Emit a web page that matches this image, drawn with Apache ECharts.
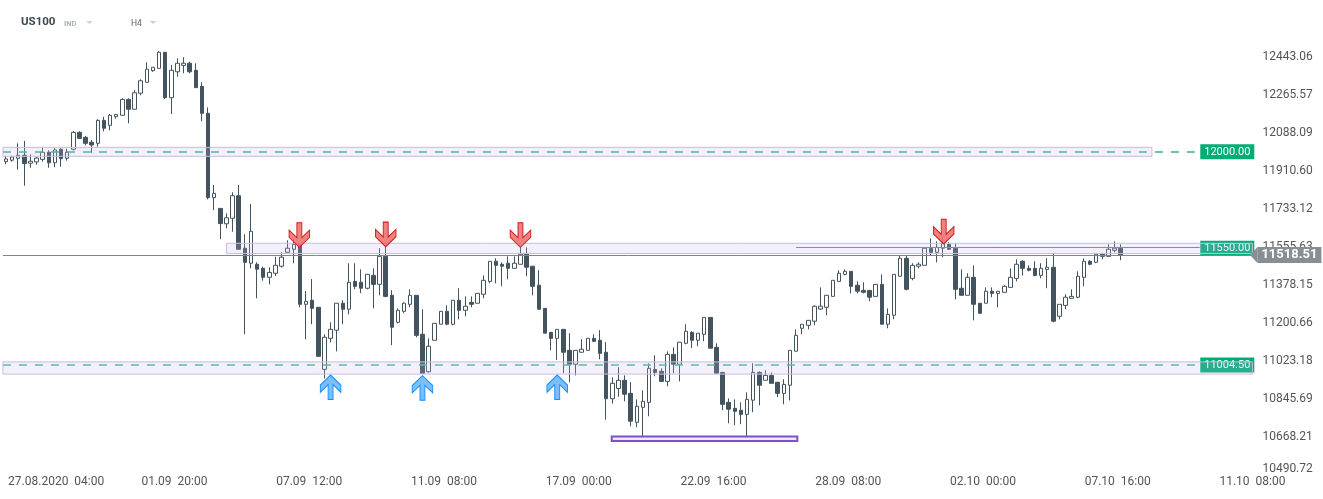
<!DOCTYPE html>
<html><head><meta charset="utf-8">
<script src="https://cdn.jsdelivr.net/npm/echarts@6/dist/echarts.min.js"></script>
<style>html,body{margin:0;padding:0;background:#fff}#c{width:1323px;height:499px}</style>
</head><body><div id="c"></div>
<script>
// ---- OHLC data (H4 bars, US100) ----
const opens = [11954,11961,11970,11984,11947,11953,11965,11998,11949,12012,11970,12012,12091,12068,12045,12040,12147,12124,12164,12171,
12245,12199,12274,12325,12379,12390,12465,12253,12374,12404,12414,12381,12306,12180,11786,11736,11664,11690,11795,11550,
11480,11475,11456,11414,11433,11466,11531,11545,11568,11288,11307,11274,10984,11129,11167,11293,11265,11395,11391,11363,
11423,11381,11512,11330,11204,11255,11288,11330,11148,10973,11120,11195,11255,11195,11307,11260,11297,11293,11335,11395,
11489,11475,11480,11456,11475,11522,11466,11377,11269,11157,11129,11171,11073,11008,11064,11073,11129,11120,11064,10847,
10895,10933,10872,10737,10807,10830,10984,10975,10928,11054,11008,11106,11157,11120,11148,11227,11087,10970,10830,10802,
10793,10774,10840,10970,10933,10956,10924,10872,10910,11069,11176,11190,11209,11266,11274,11325,11395,11428,11442,11377,
11353,11353,11325,11381,11195,11237,11419,11503,11409,11466,11470,11550,11531,11550,11568,11550,11363,11330,11414,11293,
11293,11349,11339,11344,11367,11409,11489,11456,11456,11423,11451,11461,11232,11283,11316,11321,11414,11489,11484,11522,
11512,11540,11550];
const highs = [11981,11982,12040,12051,11988,11977,12018,12007,12017,12017,12015,12097,12096,12074,12055,12153,12164,12177,12177,12250,
12250,12289,12339,12418,12395,12471,12465,12406,12437,12442,12421,12414,12325,12208,11845,11736,11713,11811,11845,11615,
11756,11484,11464,11461,11510,11531,11587,11596,11573,11350,11406,11274,11148,11204,11293,11307,11480,11480,11451,11428,
11456,11550,11559,11354,11269,11297,11358,11330,11265,11129,11199,11255,11283,11307,11363,11325,11325,11339,11423,11489,
11503,11484,11512,11512,11554,11554,11466,11447,11269,11157,11171,11171,11153,11073,11125,11129,11148,11167,11111,10947,
10994,10956,10924,10844,10886,11012,11050,10989,11068,11087,11111,11195,11162,11153,11227,11227,11106,10970,10849,10844,
10830,10877,11012,10975,10980,10970,10924,10938,11073,11171,11195,11213,11283,11367,11330,11400,11447,11451,11442,11395,
11391,11353,11381,11428,11269,11428,11517,11517,11480,11484,11554,11596,11582,11601,11578,11573,11451,11433,11470,11293,
11367,11367,11349,11377,11456,11498,11494,11470,11489,11480,11503,11522,11288,11335,11358,11442,11503,11494,11522,11526,
11568,11582,11568];
const lows = [11942,11954,11917,11842,11926,11940,11954,11926,11928,11931,11959,12007,12060,12030,11996,12024,12096,12101,12155,12167,
12133,12199,12264,12325,12374,12390,12247,12177,12351,12367,12367,12300,12143,11778,11728,11592,11643,11627,11545,11148,
11456,11316,11398,11381,11420,11459,11531,11480,11274,11125,11195,11045,10942,11110,11068,11195,11241,11358,11340,11358,
11269,11330,11321,11097,11199,11246,11274,11134,10966,10969,11120,11195,11190,11190,11218,11232,11274,11293,11316,11386,
11386,11372,11405,11456,11475,11419,11330,11265,11153,11073,11028,10966,10924,10956,11064,11073,11115,11031,10749,10824,
10856,10835,10718,10714,10667,10765,10952,10928,10905,10966,10928,11101,11083,11092,11115,11083,10966,10793,10732,10723,
10728,10667,10784,10816,10933,10919,10854,10821,10839,11069,11148,11171,11190,11261,11237,11325,11395,11423,11339,11339,
11339,11302,11325,11195,11176,11218,11419,11353,11400,11456,11470,11517,11484,11508,11545,11311,11330,11330,11213,11246,
11293,11321,11274,11344,11367,11395,11423,11442,11419,11409,11363,11204,11218,11265,11316,11316,11372,11470,11480,11498,
11512,11531,11494];
const closes = [11967,11976,11984,11945,11956,11971,11998,11949,12009,11968,11998,12091,12063,12040,12032,12147,12110,12171,12174,12245,
12199,12276,12332,12386,12395,12465,12253,12381,12414,12414,12374,12300,12180,11786,11806,11665,11692,11795,11545,11484,
11629,11452,11414,11437,11470,11508,11550,11568,11288,11302,11269,11045,11134,11171,11293,11265,11391,11372,11363,11428,
11381,11512,11325,11181,11260,11293,11330,11143,10966,11092,11199,11255,11195,11307,11260,11279,11288,11339,11400,11489,
11470,11466,11456,11480,11522,11461,11372,11265,11153,11129,11171,11064,11008,11073,11078,11129,11115,11059,10847,10919,
10933,10868,10742,10812,10835,10989,10970,10928,11054,11008,11111,11162,11120,11153,11227,11083,10966,10821,10798,10788,
10774,10844,10970,10910,10956,10919,10872,10914,11073,11143,11195,11213,11279,11279,11330,11400,11433,11442,11372,11349,
11344,11321,11381,11195,11241,11428,11503,11358,11470,11475,11550,11531,11554,11573,11545,11358,11330,11414,11288,11246,
11349,11339,11349,11372,11414,11475,11456,11447,11423,11456,11461,11209,11288,11321,11325,11419,11489,11475,11522,11512,
11545,11550,11518.51];

// ---- axes ----
const totalSlots = 204;            // bar slots on the time axis (incl. empty future space)
const xTickPos = [5.5, 27.5, 49.5, 71.5, 93.5, 115.5, 137.5, 159.5, 181.5, 203.5];
const xTickLabels = ['27.08.2020  04:00','01.09  20:00','07.09  12:00','11.09  08:00','17.09  00:00',
                     '22.09  16:00','28.09  08:00','02.10  00:00','07.10  16:00','11.10  08:00'];
const yTicks = [12443.06,12265.57,12088.09,11910.60,11733.12,11555.63,11378.15,11200.66,11023.18,10845.69,10668.21,10490.72];
const yMin = 10490.72, yMax = 12620.55;

// ---- levels / annotations ----
const lastPrice = 11518.51;
const levelValues = [12000.00, 11550.00, 11004.50];
const levelLabels = ['12000.00', '11550.00', '11004.50'];
const zoneTop = [11979, 12021];
const zoneMid = [11525, 11573];
const zoneLow = [10962, 11019];
const bottomBox = [10650, 10671];
const bottomBoxIdx = [98.9, 129.2];
const resistanceLine = 11553;
const downArrowIdx = [47.9, 62.0, 84.0, 153.1];
const downArrowPrice = [11554, 11557, 11554, 11570];
const upArrowIdx = [53.0, 68.0, 90.0];
const upArrowPrice = [10958, 10955, 10958];

const cats = Array.from({length: totalSlots}, (_, i) => String(i));
const candleData = opens.map((o, i) => [o, closes[i], lows[i], highs[i]]);

const dark = '#44545e';
const zoneStyle = {color: 'rgba(195,180,230,0.2)', borderColor: '#c8bce4', borderWidth: 1};
const downPath = 'path://M7.6 0L12.4 0L12.4 14.9L20 7.3L20 14.6L10 24.6L0 14.6L0 7.3L7.6 14.9Z';
const upPath = 'path://M7.6 24.6L12.4 24.6L12.4 9.7L20 17.3L20 10L10 0L0 10L0 17.3L7.6 9.7Z';

const chart = echarts.init(document.getElementById('c'));
chart.setOption({
  animation: false,
  backgroundColor: '#ffffff',
  textStyle: {fontFamily: 'Roboto'},
  grid: {left: 2.9, right: 70.6, top: 19, bottom: 24},
  graphic: [
    {type: 'text', left: 21, top: 16, style: {text: 'US100', fontSize: 11.5, fontWeight: 'bold', fill: '#3b4852', fontFamily: 'Roboto'}},
    {type: 'text', left: 64, top: 20, style: {text: 'IND', fontSize: 7.5, fontWeight: 'bold', fill: '#a9b1b7', fontFamily: 'Roboto'}},
    {type: 'polygon', shape: {points: [[86, 21], [93, 21], [89.5, 24]]}, style: {fill: '#cdd2d6'}},
    {type: 'text', left: 131, top: 19, style: {text: 'H4', fontSize: 8.5, fill: '#5d676e', fontFamily: 'Roboto'}},
    {type: 'polygon', shape: {points: [[149.5, 21], [156.5, 21], [153, 24]]}, style: {fill: '#cdd2d6'}}
  ],
  xAxis: [
    {type: 'category', data: cats, boundaryGap: true, position: 'bottom',
     axisLine: {show: false}, axisTick: {show: false}, axisLabel: {show: false}, splitLine: {show: false}},
    {type: 'value', min: -0.5, max: totalSlots - 0.5, position: 'bottom',
     axisLine: {show: false}, axisTick: {show: false}, splitLine: {show: false},
     axisLabel: {
       customValues: xTickPos, margin: 1, color: '#555', fontSize: 12, fontFamily: 'Roboto',
       formatter: function (v) {
         const i = xTickPos.findIndex(p => Math.abs(p - v) < 0.01);
         if (i < 0) return '';
         return i === 0 ? '{a|' + xTickLabels[i] + '}' : xTickLabels[i];
       },
       rich: {a: {padding: [0, 0, 0, 33], color: '#555', fontSize: 12, fontFamily: 'Roboto'}}
     }}
  ],
  yAxis: {
    type: 'value', position: 'right', min: yMin, max: yMax,
    axisLine: {show: false}, axisTick: {show: false}, splitLine: {show: false},
    axisLabel: {
      customValues: yTicks, margin: 10, color: '#555', fontSize: 12, fontFamily: 'Roboto',
      formatter: function (v) {
        const s = v.toFixed(2);
        return Math.abs(v - yTicks[yTicks.length - 1]) < 0.01 ? '{b|' + s + '}' : s;
      },
      rich: {b: {padding: [0, 0, 12, 0], color: '#555', fontSize: 12, fontFamily: 'Roboto'}}
    }
  },
  series: [
    {
      type: 'candlestick', xAxisIndex: 0, yAxisIndex: 0, data: candleData, barWidth: 4, z: 2,
      itemStyle: {color: '#ffffff', color0: dark, borderColor: dark, borderColor0: dark, borderWidth: 1}
    },
    { // level label boxes (under the zone overlay)
      type: 'line', xAxisIndex: 1, yAxisIndex: 0, data: [], z: 3, clip: false, silent: true,
      markPoint: {
        z: 2, silent: true, symbol: 'rect', symbolSize: [54, 15],
        label: {show: true, position: 'inside', color: '#fff', fontSize: 11, fontFamily: 'Roboto', formatter: '{b}'},
        data: levelValues.map((v, i) => ({name: levelLabels[i], coord: [199.4, v],
          itemStyle: {color: '#00ad74'}}))
      },
      markLine: {
        z: 2.5, silent: true, symbol: ['none', 'none'], label: {show: false},
        data: [
          [{coord: [-0.5, levelValues[0]], lineStyle: {color: '#2fb98a', width: 1.5, type: [8, 8]}}, {coord: [194.1, levelValues[0]]}],
          [{coord: [-0.5, levelValues[2]], lineStyle: {color: '#3fbf95', width: 1.5, type: [8, 8]}}, {coord: [194.9, levelValues[2]]}]
        ]
      }
    },
    { // translucent zones drawn over candles
      type: 'line', xAxisIndex: 1, yAxisIndex: 0, data: [], z: 4, clip: false, silent: true,
      markArea: {
        z: 3, silent: true,
        data: [
          [{coord: [-0.5, zoneTop[0]], itemStyle: zoneStyle}, {coord: [187.1, zoneTop[1]]}],
          [{coord: [36.0, zoneMid[0]], itemStyle: zoneStyle}, {coord: [totalSlots - 0.5, zoneMid[1]]}],
          [{coord: [-0.5, zoneLow[0]], itemStyle: zoneStyle}, {coord: [totalSlots - 0.5, zoneLow[1]]}],
          [{coord: [bottomBoxIdx[0], bottomBox[0]], itemStyle: {color: 'rgba(205,190,240,0.35)', borderColor: '#7b52c8', borderWidth: 2}},
           {coord: [bottomBoxIdx[1], bottomBox[1]]}]
        ]
      }
    },
    { // arrows, resistance line, last price
      type: 'line', xAxisIndex: 1, yAxisIndex: 0, data: [], z: 5, clip: false, silent: true,
      markLine: {
        z: 5, silent: true, symbol: ['none', 'none'],
        data: [
          [{coord: [129.0, resistanceLine], lineStyle: {color: '#35b98f', width: 1, type: 'solid'}, label: {show: false}},
           {coord: [194.9, resistanceLine]}],
          {yAxis: lastPrice, lineStyle: {color: '#7d868c', width: 1, type: 'solid'},
           label: {show: true, position: 'end', distance: 5, formatter: lastPrice.toFixed(2),
                   backgroundColor: '#878f94', color: '#fff', fontWeight: 'bold', fontSize: 13,
                   fontFamily: 'Roboto', padding: [2, 4, 1, 4]}}
        ]
      },
      markPoint: {
        z: 6, silent: true,
        data: [
          ...downArrowIdx.map((x, i) => ({coord: [x, downArrowPrice[i]], symbol: downPath, symbolSize: [20.5, 24.6],
            symbolOffset: [0, '-50%'], label: {show: false},
            itemStyle: {color: 'rgba(238,112,112,0.88)', borderColor: '#d11a1a', borderWidth: 1}})),
          ...upArrowIdx.map((x, i) => ({coord: [x, upArrowPrice[i]], symbol: upPath, symbolSize: [20.5, 24.6],
            symbolOffset: [0, '50%'], label: {show: false},
            itemStyle: {color: 'rgba(112,186,250,0.92)', borderColor: '#168cff', borderWidth: 1}})),
          {coord: [203.1, lastPrice], symbol: 'path://M0 8L7 0L7 16Z', symbolSize: [7.5, 16],
            symbolOffset: ['50%', 0], label: {show: false}, itemStyle: {color: '#878f94'}}
        ]
      }
    }
  ]
});
</script>
</body></html>
